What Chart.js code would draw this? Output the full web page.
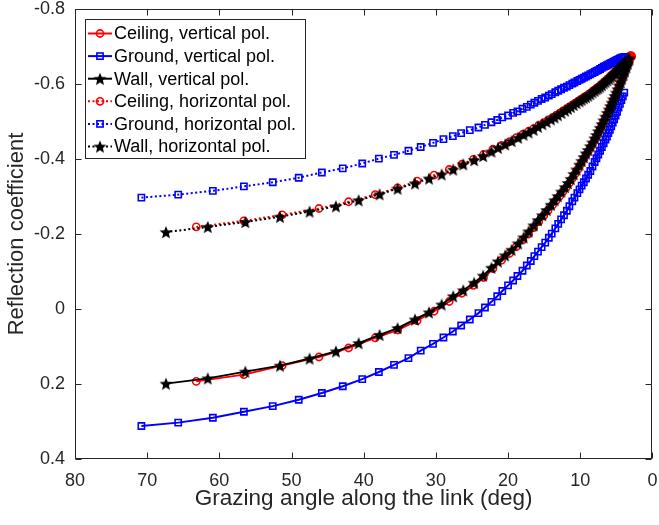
<!DOCTYPE html>
<html>
<head>
<meta charset="utf-8">
<script src="https://cdn.jsdelivr.net/npm/chart.js@4.4.1/dist/chart.umd.min.js"></script>
<style>
  body { margin: 0; background: #fff; }
  #wrap { width: 659px; height: 525px; }
</style>
</head>
<body>
<div id="wrap"><canvas id="chart" width="659" height="525"></canvas></div>
<script>
// Grazing angles (deg) per surface
const groundAngle = [70.8, 65.7, 60.9, 56.6, 52.6, 49.0, 45.8, 42.9, 40.2, 37.9, 35.8, 33.8, 32.1, 30.4, 28.95, 27.65, 26.5, 25.3, 24.1, 23.2, 22.3, 21.5, 20.8, 20.0, 19.3, 18.7, 18.0, 17.4,
  16.85, 16.35, 15.85, 15.35, 14.85, 14.35, 13.95, 13.45, 13.05, 12.65, 12.25, 11.85, 11.5, 11.1, 10.8, 10.4, 10.1, 9.8, 9.5, 9.2, 8.9, 8.6, 8.3, 8.0, 7.75, 7.5, 7.25, 7.0, 6.75, 6.5, 6.3, 6.1, 5.9, 5.7, 5.5, 5.3, 5.1, 4.9, 4.7, 4.5, 4.3, 4.1, 3.9];
const wallAngle = [67.4, 61.6, 56.4, 51.6, 47.5, 43.85, 40.7, 37.8, 35.3, 32.9, 30.95, 29.2, 27.6, 26.2, 24.7, 23.45, 22.3, 21.4, 20.4, 19.5, 18.6,
  17.85, 17.15, 16.45, 15.85, 15.25, 14.65, 14.05, 13.55, 13.1, 12.6, 12.1, 11.7, 11.3, 10.9, 10.5, 10.1, 9.8, 9.5, 9.2, 8.9, 8.6, 8.3, 8.0, 7.75, 7.5, 7.25, 7.0, 6.75, 6.5, 6.25, 6.0, 5.8, 5.6, 5.4, 5.2, 5.0, 4.8, 4.6, 4.4, 4.2, 4.0, 3.8, 3.6, 3.4, 3.2];
const ceilingAngle = [63.2, 56.6, 51.3, 46.2, 42.1, 38.4, 35.3, 32.6, 30.25, 28.15, 26.4, 24.8, 23.4, 22.1,
  20.9, 19.8, 18.85, 17.95, 17.15, 16.45, 15.75, 15.05, 14.45, 13.85, 13.35, 12.85, 12.4, 11.9, 11.5, 11.1, 10.7, 10.3, 9.9, 9.5, 9.2, 8.9, 8.6, 8.3, 8.0, 7.75, 7.5, 7.25, 7.0, 6.75, 6.5, 6.25, 6.0, 5.8, 5.6, 5.4, 5.2, 5.0, 4.8, 4.6, 4.4, 4.2, 4.0, 3.8, 3.6, 3.4, 3.2, 3.0];

// Reflection coefficients
const ceilingV = [0.193, 0.175, 0.151, 0.128, 0.104, 0.077, 0.056, 0.031, 0.006, -0.020, -0.042, -0.063, -0.084, -0.108,
  -0.130, -0.148, -0.166, -0.184, -0.200, -0.217, -0.233, -0.249, -0.263, -0.277, -0.289, -0.301, -0.313, -0.325, -0.336, -0.348, -0.361, -0.373, -0.387, -0.400,
  -0.411, -0.420, -0.430, -0.440, -0.451, -0.460, -0.470, -0.480, -0.490, -0.500, -0.510, -0.520, -0.530, -0.539, -0.548, -0.557, -0.566, -0.575, -0.585, -0.595,
  -0.604, -0.614, -0.624, -0.634, -0.644, -0.654, -0.664, -0.674];
const groundV = [0.312, 0.303, 0.290, 0.274, 0.259, 0.242, 0.224, 0.206, 0.187, 0.168, 0.149, 0.131, 0.111, 0.093, 0.076, 0.060, 0.044, 0.028, 0.011, -0.004, -0.019, -0.034, -0.048, -0.063, -0.076, -0.088, -0.102, -0.116,
  -0.128, -0.141, -0.153, -0.165, -0.177, -0.190, -0.201, -0.215, -0.227, -0.239, -0.250, -0.262, -0.274, -0.287, -0.297, -0.309, -0.319, -0.329, -0.338, -0.348,
  -0.358, -0.368, -0.380, -0.392, -0.402, -0.412, -0.422, -0.432, -0.442, -0.452, -0.460, -0.469, -0.478, -0.487, -0.497, -0.506, -0.516, -0.526, -0.537, -0.547,
  -0.557, -0.567, -0.577];
const wallV = [0.199, 0.185, 0.167, 0.151, 0.132, 0.113, 0.091, 0.069, 0.051, 0.028, 0.009, -0.012, -0.034, -0.050, -0.070, -0.089, -0.110, -0.127, -0.143, -0.158, -0.175,
  -0.191, -0.207, -0.223, -0.237, -0.250, -0.264, -0.278, -0.290, -0.301, -0.313, -0.325, -0.336, -0.347, -0.360, -0.372, -0.385, -0.395, -0.405, -0.415, -0.424,
  -0.434, -0.444, -0.455, -0.464, -0.474, -0.483, -0.493, -0.503, -0.513, -0.523, -0.532, -0.541, -0.550, -0.559, -0.568, -0.577, -0.586, -0.596, -0.605, -0.615,
  -0.625, -0.635, -0.645, -0.655, -0.665];
const ceilingH = [-0.219, -0.235, -0.251, -0.268, -0.286, -0.305, -0.323, -0.341, -0.357, -0.372, -0.386, -0.399, -0.412, -0.426,
  -0.436, -0.446, -0.457, -0.466, -0.474, -0.481, -0.490, -0.497, -0.504, -0.510, -0.516, -0.522, -0.528, -0.534, -0.539, -0.544, -0.549, -0.554, -0.559, -0.564,
  -0.567, -0.571, -0.575, -0.580, -0.584, -0.588, -0.591, -0.595, -0.599, -0.604, -0.608, -0.612, -0.616, -0.620, -0.624, -0.627, -0.631, -0.635, -0.638, -0.642,
  -0.646, -0.650, -0.654, -0.658, -0.662, -0.666, -0.670, -0.674];
const groundH = [-0.297, -0.305, -0.315, -0.327, -0.338, -0.350, -0.364, -0.375, -0.388, -0.401, -0.411, -0.422, -0.432, -0.443, -0.453, -0.461, -0.469, -0.477, -0.484, -0.491, -0.498, -0.504, -0.511, -0.516, -0.523, -0.527, -0.534, -0.539,
  -0.545, -0.550, -0.555, -0.560, -0.564, -0.569, -0.573, -0.578, -0.582, -0.586, -0.590, -0.593, -0.597, -0.601, -0.604, -0.608, -0.611, -0.614, -0.617, -0.620,
  -0.623, -0.626, -0.629, -0.632, -0.635, -0.637, -0.640, -0.643, -0.646, -0.648, -0.650, -0.652, -0.654, -0.656, -0.658, -0.660, -0.662, -0.664, -0.666, -0.668,
  -0.670, -0.671, -0.672];
const wallH = [-0.205, -0.219, -0.232, -0.246, -0.260, -0.274, -0.290, -0.306, -0.321, -0.335, -0.348, -0.359, -0.372, -0.386, -0.397, -0.408, -0.420, -0.430, -0.439, -0.448, -0.457,
  -0.465, -0.471, -0.478, -0.486, -0.493, -0.499, -0.506, -0.511, -0.517, -0.523, -0.529, -0.534, -0.539, -0.544, -0.549, -0.554, -0.558, -0.562, -0.565, -0.569,
  -0.573, -0.578, -0.582, -0.586, -0.589, -0.593, -0.597, -0.602, -0.606, -0.610, -0.614, -0.618, -0.622, -0.626, -0.629, -0.633, -0.637, -0.641, -0.644, -0.648,
  -0.652, -0.656, -0.660, -0.664, -0.668];

const seriesLabels = ['Ceiling, vertical pol.', 'Ground, vertical pol.', 'Wall, vertical pol.',
  'Ceiling, horizontal pol.', 'Ground, horizontal pol.', 'Wall, horizontal pol.'];
const xTicks = [80, 70, 60, 50, 40, 30, 20, 10, 0];
const yTicks = [-0.8, -0.6, -0.4, -0.2, 0, 0.2, 0.4];

const FONT = '"Liberation Sans", Arial, Helvetica, sans-serif';
const AXIS_COLOR = '#262626';
const RED = 'rgb(255,0,0)', BLUE = 'rgb(0,0,255)', BLACK = 'rgb(0,0,0)';
const DOTTED = [2, 2.5];

// filled pentagram marker
function makeStar(size, color) {
  const c = document.createElement('canvas');
  c.width = size; c.height = size;
  const g = c.getContext('2d');
  const cx = size / 2, cy = size / 2 + 0.7, R = size / 2 - 0.2, r = R * 0.44;
  g.beginPath();
  for (let i = 0; i < 10; i++) {
    const rad = i % 2 === 0 ? R : r;
    const a = -Math.PI / 2 + i * Math.PI / 5;
    g.lineTo(cx + rad * Math.cos(a), cy + rad * Math.sin(a));
  }
  g.closePath();
  g.fillStyle = color;
  g.fill();
  return c;
}
const starImg = makeStar(14, BLACK);

function pts(xs, ys) {
  return xs.map((a, i) => ({ x: a, y: ys[i] }));
}

function dataset(label, xs, ys, color, marker, dash, order) {
  const ds = {
    label: label,
    data: pts(xs, ys),
    borderColor: color,
    borderWidth: 2,
    borderDash: dash,
    pointBorderColor: color,
    pointBorderWidth: 1.6,
    pointBackgroundColor: 'rgba(0,0,0,0)',
    pointHoverRadius: 0,
    order: order
  };
  if (marker === 'circle') {
    ds.pointStyle = 'circle';
    ds.pointRadius = 3.6;
  } else if (marker === 'rect') {
    ds.pointStyle = 'rect';
    ds.pointRadius = 4.4;
  } else {
    ds.pointStyle = starImg;
    ds.pointRadius = 5;
  }
  return ds;
}

const datasets = [
  dataset(seriesLabels[0], ceilingAngle, ceilingV, RED, 'circle', [], 6),
  dataset(seriesLabels[1], groundAngle, groundV, BLUE, 'rect', [], 5),
  dataset(seriesLabels[2], wallAngle, wallV, BLACK, 'star', [], 4),
  dataset(seriesLabels[3], ceilingAngle, ceilingH, RED, 'circle', DOTTED, 3),
  dataset(seriesLabels[4], groundAngle, groundH, BLUE, 'rect', DOTTED, 2),
  dataset(seriesLabels[5], wallAngle, wallH, BLACK, 'star', DOTTED, 1)
];
// the ceiling curves end in a solid red dot
datasets[3].pointBackgroundColor = ctx => ctx.dataIndex === ceilingAngle.length - 1 ? RED : 'rgba(0,0,0,0)';
datasets[3].pointRadius = ctx => ctx.dataIndex === ceilingAngle.length - 1 ? 4.5 : 3.6;

function drawMarker(ctx, kind, x, y, color) {
  ctx.save();
  ctx.strokeStyle = color;
  ctx.lineWidth = 1.6;
  ctx.setLineDash([]);
  if (kind === 'circle') {
    ctx.beginPath();
    ctx.arc(x, y, 3.6, 0, Math.PI * 2);
    ctx.stroke();
  } else if (kind === 'rect') {
    ctx.strokeRect(x - 3.1, y - 3.1, 6.2, 6.2);
  } else {
    ctx.drawImage(starImg, x - 7, y - 7);
  }
  ctx.restore();
}

// MATLAB style box with inward ticks
const axesBox = {
  id: 'axesBox',
  afterDatasetsDraw(chart) {
    const { ctx, chartArea: a, scales } = chart;
    const L = Math.round(a.left) + 0.5, R = Math.round(a.right) - 0.5;
    const T = Math.round(a.top) + 0.5, B = Math.round(a.bottom) - 0.5;
    ctx.save();
    ctx.strokeStyle = AXIS_COLOR;
    ctx.lineWidth = 1;
    ctx.strokeRect(L, T, R - L, B - T);
    ctx.beginPath();
    xTicks.forEach(v => {
      const px = Math.round(scales.x.getPixelForValue(v)) + 0.5;
      ctx.moveTo(px, B); ctx.lineTo(px, B - 6);
      ctx.moveTo(px, T); ctx.lineTo(px, T + 6);
    });
    yTicks.forEach(v => {
      const py = Math.round(scales.y.getPixelForValue(v)) + 0.5;
      ctx.moveTo(L, py); ctx.lineTo(L + 6, py);
      ctx.moveTo(R, py); ctx.lineTo(R - 6, py);
    });
    ctx.stroke();
    ctx.restore();
  }
};

const legendMarkers = ['circle', 'rect', 'star', 'circle', 'rect', 'star'];
const legendColors = [RED, BLUE, BLACK, RED, BLUE, BLACK];

const boxLegend = {
  id: 'boxLegend',
  afterDraw(chart) {
    const ctx = chart.ctx;
    const bx = 85.5, by = 19.5, bw = 220, bh = 139;
    ctx.save();
    ctx.fillStyle = '#fff';
    ctx.fillRect(bx, by, bw, bh);
    ctx.strokeStyle = AXIS_COLOR;
    ctx.lineWidth = 1;
    ctx.strokeRect(bx, by, bw, bh);
    ctx.font = '18px ' + FONT;
    ctx.textBaseline = 'middle';
    ctx.fillStyle = '#000';
    seriesLabels.forEach((lab, i) => {
      const y = 33.5 + i * 22.6;
      ctx.save();
      ctx.strokeStyle = legendColors[i];
      ctx.lineWidth = 2;
      ctx.setLineDash(i < 3 ? [] : DOTTED);
      ctx.beginPath();
      ctx.moveTo(88, y); ctx.lineTo(112, y);
      ctx.stroke();
      ctx.restore();
      drawMarker(ctx, legendMarkers[i], 100, y, legendColors[i]);
      ctx.fillText(lab, 114, y + 1);
    });
    ctx.restore();
  }
};

Chart.defaults.font.family = FONT;
Chart.defaults.color = AXIS_COLOR;

new Chart(document.getElementById('chart'), {
  type: 'line',
  data: { datasets: datasets },
  options: {
    responsive: false,
    animation: false,
    layout: { padding: { top: 9, right: 4, left: 0, bottom: 0 } },
    elements: { line: { tension: 0 } },
    plugins: {
      legend: { display: false },
      tooltip: { enabled: false }
    },
    scales: {
      x: {
        type: 'linear',
        reverse: true,
        min: 0, max: 80,
        afterBuildTicks: s => { s.ticks = xTicks.map(v => ({ value: v })); },
        afterFit: s => { s.height = 66; s.paddingLeft = 0; s.paddingRight = 0; },
        grid: { display: false, drawTicks: false },
        border: { display: false },
        ticks: { font: { size: 18 }, color: AXIS_COLOR, padding: 11, maxRotation: 0 },
        title: { display: true, text: 'Grazing angle along the link (deg)', font: { size: 22.5 }, color: AXIS_COLOR, padding: { top: 0, bottom: 13 } }
      },
      y: {
        type: 'linear',
        reverse: true,
        min: -0.8, max: 0.4,
        afterBuildTicks: s => { s.ticks = yTicks.map(v => ({ value: v })); },
        afterFit: s => { s.width = 75; s.paddingTop = 0; s.paddingBottom = 0; },
        grid: { display: false, drawTicks: false },
        border: { display: false },
        ticks: { font: { size: 18 }, color: AXIS_COLOR, padding: 10, callback: v => String(Math.round(v * 10) / 10) },
        title: { display: true, text: 'Reflection coefficient', font: { size: 22 }, color: AXIS_COLOR, padding: { top: 4, bottom: 0 } }
      }
    }
  },
  plugins: [axesBox, boxLegend]
});
</script>
</body>
</html>
